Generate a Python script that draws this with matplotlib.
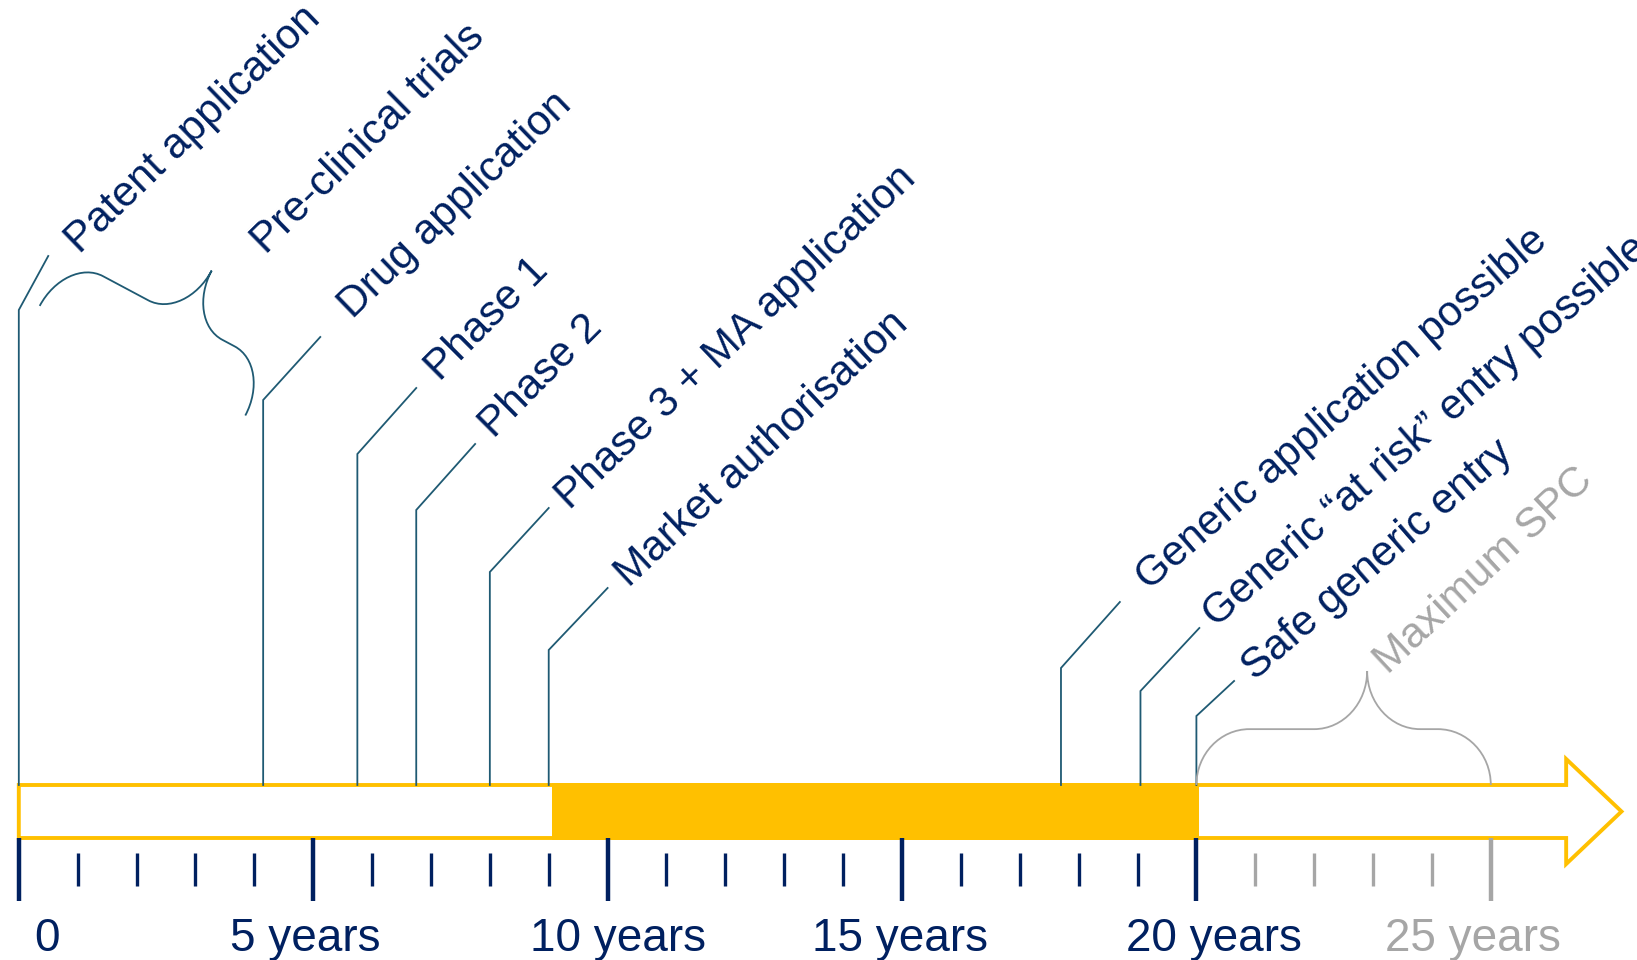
import matplotlib.pyplot as plt
from matplotlib.patches import Polygon, Rectangle, PathPatch
from matplotlib.path import Path
from matplotlib.transforms import Affine2D

# timeline data (years after patent application)
labels = ['Patent application', 'Pre-clinical trials', 'Drug application', 'Phase 1', 'Phase 2',
          'Phase 3 + MA application', 'Market authorisation', 'Generic application possible',
          'Generic \u201cat risk\u201d entry possible', 'Safe generic entry', 'Maximum SPC']
event_years = [0, 4.15, 5.75, 6.75, 8.0, 9.0, 17.7, 19.05, 20.0]   # leaders (no leader for trials / SPC)
protected_start = 9.0     # market authorisation
protected_end = 20.0      # patent expiry
spc_end = 25.0
tick_years = list(range(0, 26))
tick_labels = ['0', '5 years', '10 years', '15 years', '20 years', '25 years']

# layout (pixels, y measured from top)
turn_y = [310, 400, 454, 510, 572, 650, 668, 691, 716]
end_y = [256, 337, 388, 444, 508, 588, 602, 628, 681]
diag_dx = [0.5, 0.97, 1.0, 1.0, 1.0, 1.0, 1.0, 1.0, 0.64]
label_x = [0.90, 4.07, 5.55, 7.02, 7.94, 9.23, 10.24, 19.07, 20.21, 20.88, 23.13]
label_y = [247, 247, 312, 374, 431, 502, 580, 583, 620, 673, 667]
label_rot = [44, 44.5, 44, 45, 45, 43.5, 43, 41, 41, 41, 43]
tick_label_shift = [0.48, -0.13, 0.18, -0.03, 0.3, -0.3]

NAVY = '#002060'
TEAL = '#1F5A73'
GOLD = '#FFC000'
GREY = '#A6A6A6'

plt.rcParams['font.family'] = ['Liberation Sans', 'DejaVu Sans']

X0, S = 18.8, 58.88   # pixel of year 0, pixels per year
fig = plt.figure(figsize=(16.37, 9.6), dpi=100)
ax = fig.add_axes([0, 0, 1, 1])
ax.set_xlim(-X0 / S, (1637 - X0) / S)
ax.set_ylim(960, 0)
ax.axis('off')
px_to_data = Affine2D().translate(-X0, 0).scale(1 / S, 1) + ax.transData

bar_top, bar_bot = 785, 838

# arrow outline
head_x, tip_x = 26.28, 27.22
arrow = Polygon([(0, bar_top), (head_x, bar_top), (head_x, 759), (tip_x, (bar_top + bar_bot) / 2),
                 (head_x, 864), (head_x, bar_bot), (0, bar_bot)],
                closed=True, facecolor='white', edgecolor=GOLD, lw=2.8, joinstyle='miter', zorder=1)
ax.add_patch(arrow)
ax.add_patch(Rectangle((protected_start + 0.05, bar_top - 2), protected_end - protected_start,
                       bar_bot - bar_top + 4, facecolor=GOLD, edgecolor='none', zorder=2))

# year ticks
for yr in tick_years:
    col = NAVY if yr <= protected_end else GREY
    if yr % 5 == 0:
        ax.plot([yr, yr], [838, 901], color=col, lw=3.2, solid_capstyle='butt', zorder=3)
    else:
        ax.plot([yr, yr], [853, 886], color=col, lw=2.4, solid_capstyle='butt', zorder=3)
for i, lab in enumerate(tick_labels):
    yr = tick_years[i * 5]
    ax.text(yr + tick_label_shift[i], 951, lab, ha='center', va='baseline', fontsize=33,
            color=NAVY if yr <= protected_end else GREY)

# leader lines
for x, ty, ey, dx in zip(event_years, turn_y, end_y, diag_dx):
    ax.plot([x, x, x + dx], [bar_top, ty, ey], color=TEAL, lw=1.3, solid_joinstyle='miter', zorder=3)


def brace(p0, p1, height, c=0.58, ra=0.18, rb=0.5):
    # curly brace in pixel space from p0 to p1, tip bulging to the left of p0->p1
    dxp, dyp = p1[0] - p0[0], p1[1] - p0[1]
    L = (dxp ** 2 + dyp ** 2) ** 0.5
    ux, uy = dxp / L, dyp / L
    nx, ny = uy, -ux
    a, b, H, k = ra * L, rb * height, height, 0.552
    cl = c * L
    local = [(0, 0),
             (0, k * b), (a - k * a, b), (a, b),
             (cl - a, b),
             (cl - a + k * a, b), (cl, H - k * (H - b)), (cl, H),
             (cl, H - k * (H - b)), (cl + a - k * a, b), (cl + a, b),
             (L - a, b),
             (L - a + k * a, b), (L, k * b), (L, 0)]
    codes = [Path.MOVETO] + [Path.CURVE4] * 3 + [Path.LINETO] + [Path.CURVE4] * 6 + [Path.LINETO] + [Path.CURVE4] * 3
    pts = [(p0[0] + u * ux + w * nx, p0[1] + u * uy + w * ny) for u, w in local]
    return Path(pts, codes)


ax.add_patch(PathPatch(brace((39.7, 305.9), (245.3, 415.5), 112), facecolor='none',
                       edgecolor=TEAL, lw=1.3, transform=px_to_data, zorder=3))
ax.add_patch(PathPatch(brace((X0 + protected_end * S, bar_top), (X0 + spc_end * S, bar_top), 114, rb=0.49),
                       facecolor='none', edgecolor=GREY, lw=1.3, transform=px_to_data, zorder=3))

# rotated labels
for i, lab in enumerate(labels):
    ax.text(label_x[i], label_y[i], lab, rotation=label_rot[i], rotation_mode='anchor', ha='left',
            va='center', fontsize=30.5, color=GREY if lab == 'Maximum SPC' else NAVY)

fig.savefig('out.png', dpi=100, facecolor='white')
